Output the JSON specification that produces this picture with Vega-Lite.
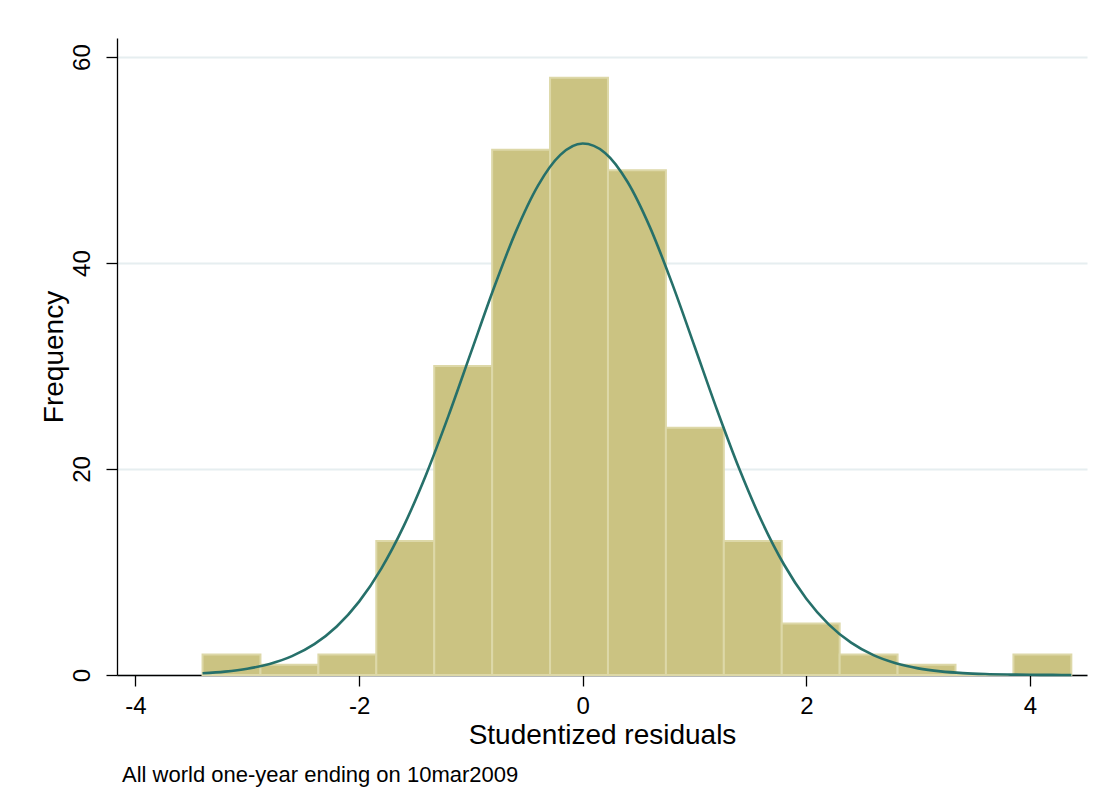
{
  "$schema": "https://vega.github.io/schema/vega-lite/v6.json",
  "autosize": {"type": "none"},
  "width": 970,
  "height": 637,
  "padding": {"left": 117, "top": 38, "right": 17, "bottom": 132},
  "background": "white",
  "config": {
    "font": "Liberation Sans",
    "view": {"stroke": null},
    "axis": {
      "domainColor": "#000000",
      "domainWidth": 1.3,
      "tickColor": "#000000",
      "tickWidth": 1.3,
      "tickSize": 11,
      "labelFont": "Liberation Sans",
      "labelColor": "#000000",
      "titleFont": "Liberation Sans",
      "titleFontWeight": "normal",
      "titleColor": "#000000"
    }
  },
  "title": {
    "text": "All world one-year ending on 10mar2009",
    "orient": "bottom",
    "anchor": "start",
    "frame": "group",
    "dx": 5,
    "offset": 16,
    "font": "Liberation Sans",
    "fontSize": 22,
    "fontWeight": "normal",
    "color": "#000000"
  },
  "datasets": {
    "bins": [
      {"lo": -3.400, "hi": -2.882, "count": 2},
      {"lo": -2.882, "hi": -2.364, "count": 1},
      {"lo": -2.364, "hi": -1.846, "count": 2},
      {"lo": -1.846, "hi": -1.328, "count": 13},
      {"lo": -1.328, "hi": -0.810, "count": 30},
      {"lo": -0.810, "hi": -0.292, "count": 51},
      {"lo": -0.292, "hi": 0.226, "count": 58},
      {"lo": 0.226, "hi": 0.744, "count": 49},
      {"lo": 0.744, "hi": 1.262, "count": 24},
      {"lo": 1.262, "hi": 1.780, "count": 13},
      {"lo": 1.780, "hi": 2.298, "count": 5},
      {"lo": 2.298, "hi": 2.816, "count": 2},
      {"lo": 2.816, "hi": 3.334, "count": 1},
      {"lo": 3.334, "hi": 3.852, "count": 0},
      {"lo": 3.852, "hi": 4.370, "count": 2}
    ],
    "curve": [
      {"r": -3.4, "f": 0.173}, {"r": -3.2, "f": 0.330}, {"r": -3.0, "f": 0.608},
      {"r": -2.8, "f": 1.076}, {"r": -2.6, "f": 1.831}, {"r": -2.4, "f": 2.994},
      {"r": -2.2, "f": 4.710}, {"r": -2.0, "f": 7.122}, {"r": -1.8, "f": 10.36},
      {"r": -1.6, "f": 14.48}, {"r": -1.4, "f": 19.47}, {"r": -1.2, "f": 25.18},
      {"r": -1.0, "f": 31.30}, {"r": -0.8, "f": 37.41}, {"r": -0.6, "f": 43.00},
      {"r": -0.4, "f": 47.52}, {"r": -0.2, "f": 50.50}, {"r": 0.0, "f": 51.60},
      {"r": 0.2, "f": 50.69}, {"r": 0.4, "f": 47.89}, {"r": 0.6, "f": 43.51},
      {"r": 0.8, "f": 38.00}, {"r": 1.0, "f": 31.92}, {"r": 1.2, "f": 25.78},
      {"r": 1.4, "f": 20.02}, {"r": 1.6, "f": 14.95}, {"r": 1.8, "f": 10.73},
      {"r": 2.0, "f": 7.407}, {"r": 2.2, "f": 4.917}, {"r": 2.4, "f": 3.138},
      {"r": 2.6, "f": 1.926}, {"r": 2.8, "f": 1.137}, {"r": 3.0, "f": 0.645},
      {"r": 3.2, "f": 0.352}, {"r": 3.4, "f": 0.185}, {"r": 3.6, "f": 0.093},
      {"r": 3.8, "f": 0.045}, {"r": 4.0, "f": 0.021}, {"r": 4.2, "f": 0.009},
      {"r": 4.37, "f": 0.005}
    ]
  },
  "layer": [
    {
      "data": {"name": "bins"},
      "mark": {"type": "rect", "fill": "#cbc382", "stroke": "#ddd8a8", "strokeWidth": 2},
      "encoding": {
        "x": {
          "field": "lo", "type": "quantitative",
          "scale": {"domain": [-4.165, 4.51], "nice": false, "zero": false},
          "axis": {
            "values": [-4, -2, 0, 2, 4],
            "labelExpr": "toString(datum.value)",
            "title": "Studentized residuals",
            "grid": false,
            "labelFontSize": 24,
            "titleFontSize": 28,
            "labelPadding": 8,
            "titlePadding": 3
          }
        },
        "x2": {"field": "hi"},
        "y": {
          "field": "count", "type": "quantitative",
          "scale": {"domain": [0, 61.85], "nice": false},
          "axis": {
            "values": [0, 20, 40, 60],
            "labelExpr": "toString(datum.value)",
            "title": "Frequency",
            "grid": true,
            "gridColor": "#e6eef0",
            "gridWidth": 2,
            "labelFontSize": 24,
            "titleFontSize": 28,
            "labelAngle": -90,
            "labelAlign": "center",
            "labelBaseline": "bottom",
            "labelPadding": 12,
            "titlePadding": 2
          }
        },
        "y2": {"datum": 0}
      }
    },
    {
      "data": {"name": "curve"},
      "mark": {"type": "line", "color": "#26706a", "strokeWidth": 2.6, "interpolate": "monotone"},
      "encoding": {
        "x": {"field": "r", "type": "quantitative"},
        "y": {"field": "f", "type": "quantitative"}
      }
    }
  ]
}
